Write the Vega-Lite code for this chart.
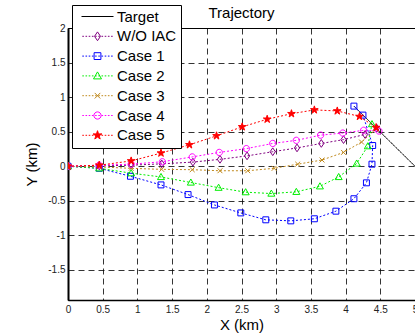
{
  "$schema": "https://vega.github.io/schema/vega-lite/v6.json",
  "autosize": "none",
  "width": 347,
  "height": 272,
  "padding": {"left": 68, "top": 28, "right": 0, "bottom": 35},
  "background": "white",
  "title": {"text": "Trajectory", "fontSize": 15, "fontWeight": "normal", "font": "Liberation Sans", "color": "black", "anchor": "middle", "frame": "group", "offset": 10, "dy": 38, "baseline": "alphabetic"},
  "config": {
    "view": {"stroke": "black", "strokeWidth": 1},
    "font": "Liberation Sans",
    "axis": {
      "grid": true, "gridColor": "black", "gridOpacity": 1, "gridDash": [6, 4], "gridWidth": 0.8,
      "domainColor": "black", "domainWidth": 1.5, "ticks": false,
      "labelFont": "Liberation Sans", "labelFontSize": 10, "labelColor": "#222222",
      "titleFont": "Liberation Sans", "titleFontSize": 15, "titleFontWeight": "normal", "titleColor": "black"
    }
  },
  "data": {"values": [
    {"s": "Target", "i": 0, "x": 4.12, "y": 0.87},
    {"s": "Target", "i": 1, "x": 5.0, "y": 0.0},
    {"s": "W/O IAC", "i": 0, "x": 0, "y": 0},
    {"s": "W/O IAC", "i": 1, "x": 0.45, "y": 0.005},
    {"s": "W/O IAC", "i": 2, "x": 0.91, "y": 0.015},
    {"s": "W/O IAC", "i": 3, "x": 1.35, "y": 0.035},
    {"s": "W/O IAC", "i": 4, "x": 1.8, "y": 0.06},
    {"s": "W/O IAC", "i": 5, "x": 2.19, "y": 0.1},
    {"s": "W/O IAC", "i": 6, "x": 2.58, "y": 0.15},
    {"s": "W/O IAC", "i": 7, "x": 2.95, "y": 0.21},
    {"s": "W/O IAC", "i": 8, "x": 3.3, "y": 0.265},
    {"s": "W/O IAC", "i": 9, "x": 3.65, "y": 0.33},
    {"s": "W/O IAC", "i": 10, "x": 3.97, "y": 0.385},
    {"s": "W/O IAC", "i": 11, "x": 4.28, "y": 0.46},
    {"s": "W/O IAC", "i": 12, "x": 4.45, "y": 0.55},
    {"s": "Case 1", "i": 0, "x": 0, "y": 0},
    {"s": "Case 1", "i": 1, "x": 0.45, "y": -0.03},
    {"s": "Case 1", "i": 2, "x": 0.9, "y": -0.145},
    {"s": "Case 1", "i": 3, "x": 1.34, "y": -0.27},
    {"s": "Case 1", "i": 4, "x": 1.73, "y": -0.41},
    {"s": "Case 1", "i": 5, "x": 2.11, "y": -0.56},
    {"s": "Case 1", "i": 6, "x": 2.49, "y": -0.675},
    {"s": "Case 1", "i": 7, "x": 2.85, "y": -0.775},
    {"s": "Case 1", "i": 8, "x": 3.21, "y": -0.79},
    {"s": "Case 1", "i": 9, "x": 3.55, "y": -0.76},
    {"s": "Case 1", "i": 10, "x": 3.86, "y": -0.65},
    {"s": "Case 1", "i": 11, "x": 4.12, "y": -0.47},
    {"s": "Case 1", "i": 12, "x": 4.3, "y": -0.24},
    {"s": "Case 1", "i": 13, "x": 4.38, "y": 0.03},
    {"s": "Case 1", "i": 14, "x": 4.39, "y": 0.3},
    {"s": "Case 1", "i": 15, "x": 4.25, "y": 0.74},
    {"s": "Case 1", "i": 16, "x": 4.12, "y": 0.87},
    {"s": "Case 2", "i": 0, "x": 0, "y": 0},
    {"s": "Case 2", "i": 1, "x": 0.45, "y": -0.03},
    {"s": "Case 2", "i": 2, "x": 0.91, "y": -0.1},
    {"s": "Case 2", "i": 3, "x": 1.34, "y": -0.155},
    {"s": "Case 2", "i": 4, "x": 1.77, "y": -0.235},
    {"s": "Case 2", "i": 5, "x": 2.17, "y": -0.31},
    {"s": "Case 2", "i": 6, "x": 2.56, "y": -0.375},
    {"s": "Case 2", "i": 7, "x": 2.93, "y": -0.395},
    {"s": "Case 2", "i": 8, "x": 3.29, "y": -0.37},
    {"s": "Case 2", "i": 9, "x": 3.63, "y": -0.29},
    {"s": "Case 2", "i": 10, "x": 3.9, "y": -0.155},
    {"s": "Case 2", "i": 11, "x": 4.16, "y": 0.04},
    {"s": "Case 2", "i": 12, "x": 4.32, "y": 0.29},
    {"s": "Case 2", "i": 13, "x": 4.38, "y": 0.61},
    {"s": "Case 3", "i": 0, "x": 0, "y": 0},
    {"s": "Case 3", "i": 1, "x": 0.45, "y": -0.01},
    {"s": "Case 3", "i": 2, "x": 0.91, "y": -0.03},
    {"s": "Case 3", "i": 3, "x": 1.35, "y": -0.045},
    {"s": "Case 3", "i": 4, "x": 1.79, "y": -0.05},
    {"s": "Case 3", "i": 5, "x": 2.19, "y": -0.065},
    {"s": "Case 3", "i": 6, "x": 2.59, "y": -0.065},
    {"s": "Case 3", "i": 7, "x": 2.97, "y": -0.03},
    {"s": "Case 3", "i": 8, "x": 3.31, "y": 0.03},
    {"s": "Case 3", "i": 9, "x": 3.66, "y": 0.09},
    {"s": "Case 3", "i": 10, "x": 3.97, "y": 0.2},
    {"s": "Case 3", "i": 11, "x": 4.23, "y": 0.35},
    {"s": "Case 3", "i": 12, "x": 4.44, "y": 0.54},
    {"s": "Case 4", "i": 0, "x": 0, "y": 0},
    {"s": "Case 4", "i": 1, "x": 0.45, "y": 0.015},
    {"s": "Case 4", "i": 2, "x": 0.91, "y": 0.03},
    {"s": "Case 4", "i": 3, "x": 1.36, "y": 0.065},
    {"s": "Case 4", "i": 4, "x": 1.79, "y": 0.135},
    {"s": "Case 4", "i": 5, "x": 2.18, "y": 0.2},
    {"s": "Case 4", "i": 6, "x": 2.57, "y": 0.255},
    {"s": "Case 4", "i": 7, "x": 2.95, "y": 0.33},
    {"s": "Case 4", "i": 8, "x": 3.29, "y": 0.375},
    {"s": "Case 4", "i": 9, "x": 3.64, "y": 0.45},
    {"s": "Case 4", "i": 10, "x": 3.96, "y": 0.48},
    {"s": "Case 4", "i": 11, "x": 4.26, "y": 0.52},
    {"s": "Case 4", "i": 12, "x": 4.48, "y": 0.51},
    {"s": "Case 5", "i": 0, "x": 0, "y": 0},
    {"s": "Case 5", "i": 1, "x": 0.45, "y": 0.015},
    {"s": "Case 5", "i": 2, "x": 0.91, "y": 0.077},
    {"s": "Case 5", "i": 3, "x": 1.34, "y": 0.19},
    {"s": "Case 5", "i": 4, "x": 1.75, "y": 0.31},
    {"s": "Case 5", "i": 5, "x": 2.14, "y": 0.44},
    {"s": "Case 5", "i": 6, "x": 2.51, "y": 0.57},
    {"s": "Case 5", "i": 7, "x": 2.87, "y": 0.68},
    {"s": "Case 5", "i": 8, "x": 3.22, "y": 0.76},
    {"s": "Case 5", "i": 9, "x": 3.55, "y": 0.815},
    {"s": "Case 5", "i": 10, "x": 3.88, "y": 0.8},
    {"s": "Case 5", "i": 11, "x": 4.2, "y": 0.72},
    {"s": "Case 5", "i": 12, "x": 4.44, "y": 0.56}
  ]},
  "encoding": {
    "x": {"field": "x", "type": "quantitative", "title": "X (km)",
      "scale": {"domain": [0, 5], "nice": false, "zero": false},
      "axis": {"values": [0, 0.5, 1, 1.5, 2, 2.5, 3, 3.5, 4, 4.5, 5], "labelExpr": "'' + datum.value", "labelPadding": 4, "titlePadding": 3, "labelFlush": false}},
    "y": {"field": "y", "type": "quantitative", "title": "Y (km)",
      "scale": {"domain": [-1.935, 2], "nice": false, "zero": false},
      "axis": {"values": [-1.5, -1, -0.5, 0, 0.5, 1, 1.5, 2], "labelExpr": "'' + datum.value", "labelPadding": 3, "titlePadding": 8, "domainWidth": 2}}
  },
  "layer": [
    {
      "mark": {"type": "line", "strokeWidth": 1, "clip": true},
      "encoding": {
        "order": {"field": "i", "type": "quantitative"},
        "detail": {"field": "s"},
        "stroke": {"field": "s", "type": "nominal", "legend": null,
          "scale": {"domain": ["Target", "W/O IAC", "Case 1", "Case 2", "Case 3", "Case 4", "Case 5"],
                    "range": ["#000000", "#800080", "#0000ff", "#00ee00", "#c08a1e", "#ff00ff", "#ff0000"]}},
        "strokeDash": {"field": "s", "type": "nominal", "legend": null,
          "scale": {"domain": ["Target", "W/O IAC", "Case 1", "Case 2", "Case 3", "Case 4", "Case 5"],
                    "range": [[1, 0], [2, 2], [2, 2], [2, 2], [2, 2], [2, 2], [2, 2]]}}
      }
    },
    {
      "transform": [{"filter": "datum.s != 'Target'"}],
      "mark": {"type": "point", "filled": false, "strokeWidth": 1, "size": 49, "opacity": 1, "clip": true},
      "encoding": {
        "shape": {"field": "s", "type": "nominal", "legend": null,
          "scale": {"domain": ["W/O IAC", "Case 1", "Case 2", "Case 3", "Case 4", "Case 5"],
                    "range": [
                      "M0,-1.1L0.75,0L0,1.1L-0.75,0Z",
                      "M-0.85,-0.85H0.85V0.85H-0.85Z",
                      "M0,-1L1,0.75H-1Z",
                      "M-0.7,-0.7L0.7,0.7M-0.7,0.7L0.7,-0.7",
                      "M0.9,0A0.9,0.9,0,1,1,-0.9,0A0.9,0.9,0,1,1,0.9,0Z",
                      "M0,-1.15L0.26,-0.355L1.094,-0.355L0.417,0.136L0.676,0.93L0,0.439L-0.676,0.93L-0.417,0.136L-1.094,-0.355L-0.26,-0.355Z"
                    ]}},
        "stroke": {"field": "s", "type": "nominal", "legend": null,
          "scale": {"domain": ["W/O IAC", "Case 1", "Case 2", "Case 3", "Case 4", "Case 5"],
                    "range": ["#800080", "#0000ff", "#00ee00", "#c08a1e", "#ff00ff", "#ff0000"]}},
        "fill": {"field": "s", "type": "nominal", "legend": null,
          "scale": {"domain": ["W/O IAC", "Case 1", "Case 2", "Case 3", "Case 4", "Case 5"],
                    "range": ["transparent", "transparent", "transparent", "transparent", "transparent", "#ff0000"]}}
      }
    },
    {
      "transform": [{"filter": "false"}],
      "mark": {"type": "point", "filled": false, "strokeWidth": 1, "opacity": 1},
      "encoding": {
        "x": null, "y": null,
        "shape": {"field": "s", "type": "nominal",
          "legend": {"orient": "none", "legendX": 4, "legendY": -23, "title": null, "fillColor": "white", "strokeColor": "black", "padding": 4, "labelFont": "Liberation Sans", "labelFontSize": 15, "labelColor": "black", "labelAlign": "left", "symbolSize": 64, "symbolStrokeWidth": 1, "symbolOffset": 14, "labelOffset": 12, "rowPadding": 3.8, "symbolOpacity": 1},
          "scale": {"domain": ["Target", "W/O IAC", "Case 1", "Case 2", "Case 3", "Case 4", "Case 5"],
                    "range": [
                      "M-4,0H4",
                      "M-3.8,0h0.4M-3,0h0.4M-2.2,0h0.4M-1.4,0h0.4M-0.6,0h0.4M0.2,0h0.4M1,0h0.4M1.8,0h0.4M2.6,0h0.4M3.4,0h0.4M0,-1.1L0.75,0L0,1.1L-0.75,0Z",
                      "M-3.8,0h0.4M-3,0h0.4M-2.2,0h0.4M-1.4,0h0.4M-0.6,0h0.4M0.2,0h0.4M1,0h0.4M1.8,0h0.4M2.6,0h0.4M3.4,0h0.4M-0.85,-0.85H0.85V0.85H-0.85Z",
                      "M-3.8,0h0.4M-3,0h0.4M-2.2,0h0.4M-1.4,0h0.4M-0.6,0h0.4M0.2,0h0.4M1,0h0.4M1.8,0h0.4M2.6,0h0.4M3.4,0h0.4M0,-1L1,0.75H-1Z",
                      "M-3.8,0h0.4M-3,0h0.4M-2.2,0h0.4M-1.4,0h0.4M-0.6,0h0.4M0.2,0h0.4M1,0h0.4M1.8,0h0.4M2.6,0h0.4M3.4,0h0.4M-0.7,-0.7L0.7,0.7M-0.7,0.7L0.7,-0.7",
                      "M-3.8,0h0.4M-3,0h0.4M-2.2,0h0.4M-1.4,0h0.4M-0.6,0h0.4M0.2,0h0.4M1,0h0.4M1.8,0h0.4M2.6,0h0.4M3.4,0h0.4M0.9,0A0.9,0.9,0,1,1,-0.9,0A0.9,0.9,0,1,1,0.9,0Z",
                      "M-3.8,0h0.4M-3,0h0.4M-2.2,0h0.4M-1.4,0h0.4M-0.6,0h0.4M0.2,0h0.4M1,0h0.4M1.8,0h0.4M2.6,0h0.4M3.4,0h0.4M0,-1.15L0.26,-0.355L1.094,-0.355L0.417,0.136L0.676,0.93L0,0.439L-0.676,0.93L-0.417,0.136L-1.094,-0.355L-0.26,-0.355Z"
                    ]}},
        "stroke": {"field": "s", "type": "nominal",
          "legend": {"orient": "none", "legendX": 4, "legendY": -23, "title": null, "fillColor": "white", "strokeColor": "black", "padding": 4, "labelFont": "Liberation Sans", "labelFontSize": 15, "labelColor": "black", "labelAlign": "left", "symbolSize": 64, "symbolStrokeWidth": 1, "symbolOffset": 14, "labelOffset": 12, "rowPadding": 3.8, "symbolOpacity": 1},
          "scale": {"domain": ["Target", "W/O IAC", "Case 1", "Case 2", "Case 3", "Case 4", "Case 5"],
                    "range": ["#000000", "#800080", "#0000ff", "#00ee00", "#c08a1e", "#ff00ff", "#ff0000"]}},
        "fill": {"field": "s", "type": "nominal",
          "legend": {"orient": "none", "legendX": 4, "legendY": -23, "title": null, "fillColor": "white", "strokeColor": "black", "padding": 4, "labelFont": "Liberation Sans", "labelFontSize": 15, "labelColor": "black", "labelAlign": "left", "symbolSize": 64, "symbolStrokeWidth": 1, "symbolOffset": 14, "labelOffset": 12, "rowPadding": 3.8, "symbolOpacity": 1},
          "scale": {"domain": ["Target", "W/O IAC", "Case 1", "Case 2", "Case 3", "Case 4", "Case 5"],
                    "range": ["transparent", "transparent", "transparent", "transparent", "transparent", "transparent", "#ff0000"]}}
      }
    }
  ],
  "resolve": {"scale": {"shape": "independent", "stroke": "independent", "fill": "independent", "strokeDash": "independent"}}
}
